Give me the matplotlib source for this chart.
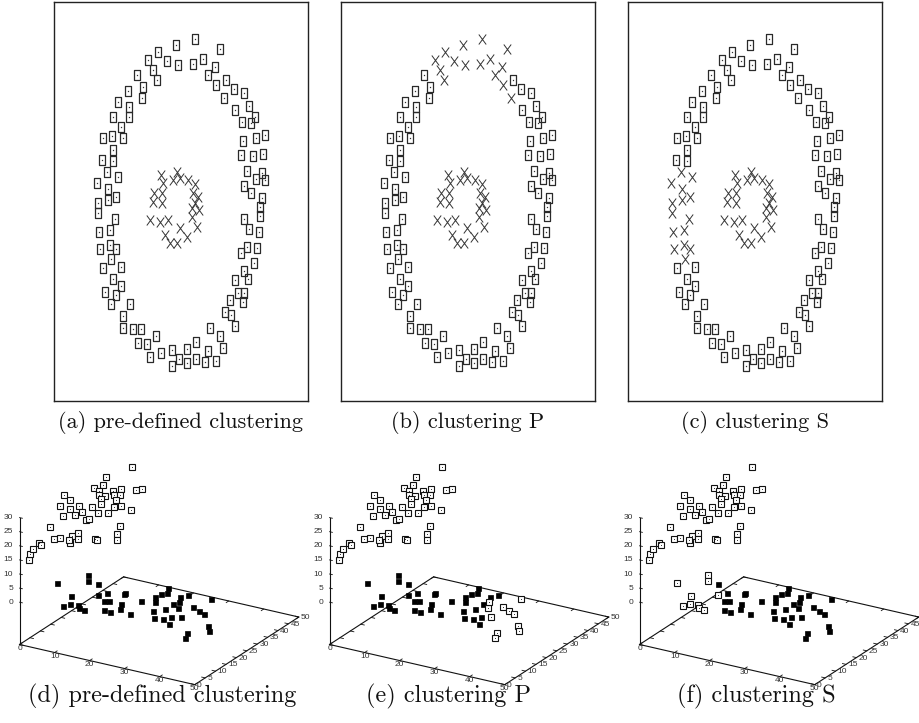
import matplotlib
matplotlib.use("Agg")
import matplotlib.pyplot as plt
from matplotlib.path import Path
from mpl_toolkits.mplot3d import Axes3D  # noqa: F401

if "axes3d.automargin" in plt.rcParams:
    plt.rcParams["axes3d.automargin"] = False

# ---------- 2D data (panels a-c): outer ring and inner core ----------
ring_x = [141, 122, 166, 104.3, 94.3, 113.3, 124.3, 138.7, 148.7, 161,
          99.3, 102.7, 82.7, 153.7, 162, 171.7, 89.3, 87.7, 73.7, 180.3,
          170, 190, 63.7, 75.3, 75.3, 195, 181, 59.3, 188.3, 197,
          200.7, 66.7, 49.3, 58.3, 68.7, 211, 202, 188.7, 59.3, 47.7,
          59.3, 187, 198.7, 209.3, 52.7, 64.3, 193.3, 207.7, 201.7, 211,
          42.7, 54.3, 190, 197, 44.3, 44.3, 54.3, 62, 208.3, 206,
          206, 61, 56, 45.3, 190.3, 195.3, 205.3, 46, 56, 62,
          187, 192.7, 202.7, 200, 56.7, 48.7, 67, 59.3, 190, 181,
          193.7, 51, 66.7, 62, 56.7, 183.7, 190, 188.7, 176, 76,
          171, 176.7, 181, 69.3, 69.3, 78.7, 87, 156, 166, 102,
          84.3, 92.7, 168.7, 142, 132.7, 96, 107, 118.3, 153.7, 125,
          133.3, 142, 151, 161.7, 118.3]
ring_y = [362, 356, 352, 349, 341, 340, 336, 337, 342, 334,
          331, 321, 326, 326, 316, 321, 314, 303, 310, 312,
          303, 308, 299, 294, 284, 295, 291, 284, 279, 278,
          284, 274, 263, 265, 263, 266, 263, 260, 251, 241,
          240, 246, 245, 247, 229, 224, 230, 228, 222, 221,
          218, 212, 215, 208, 198, 188, 201, 204, 203, 194,
          185, 182, 171, 169, 182, 172, 169, 152, 156, 152,
          148, 154, 153, 138, 142, 133, 134, 122, 130, 121,
          122, 109, 115, 106, 97, 108, 108, 99, 101, 97,
          89, 86, 75, 85, 73, 72, 72, 73, 65, 65,
          58, 57, 53, 59, 52, 44, 48, 51, 50, 42,
          38, 42, 39, 40, 35]
core_x = [106.7, 109.3, 122.7, 118.7, 126, 134.3, 141, 100, 107.7, 138.7,
          144.3, 99.3, 107.7, 141, 145.3, 138.3, 96, 106, 114.3, 137.7,
          142.7, 126, 133.3, 111, 116, 122.7]
core_y = [226, 218, 229, 221, 223, 221, 217, 208, 208, 208,
          204, 199, 198, 198, 191, 193, 181, 179, 181, 184,
          174, 173, 164, 166, 158, 158]

# ring points put in the "X" cluster by each clustering
ring_as_x_a = []
ring_as_x_b = [0, 1, 2, 3, 4, 5, 6, 7, 8, 9, 10, 11, 13, 14, 20]
ring_as_x_c = [44, 45, 50, 51, 54, 55, 56, 57, 61, 62, 63, 67, 68, 69, 74]

# ---------- 3D data (panels d-f) ----------
low_x = [1.7, 10.3, 8.7, 11.3, 13.2, 14.3, 16.1, 5.6, 7.6, 10.8,
         14.3, 20.1, 17.4, 15.5, 18.3, 22.1, 23.3, 22.0, 19.5, 19.3,
         27.0, 25.2, 31.1, 26.9, 28.5, 33.5, 27.2, 35.7, 32.9, 26.5,
         28.3, 38.7, 36.9, 32.8, 35.3, 32.0, 33.6, 38.9, 33.2, 45.3,
         46.6, 38.1, 40.8, 42.6, 47.5, 49.2, 39.3]
low_y = [15.2, 3.5, 10.0, 5.4, 5.8, 4.5, 3.8, 23.4, 20.3, 19.7,
         13.7, 6.5, 11.5, 16.0, 12.0, 6.2, 9.0, 11.8, 17.4, 18.3,
         7.6, 15.8, 11.7, 19.9, 17.1, 8.1, 22.1, 8.7, 14.4, 26.5,
         23.3, 6.6, 10.6, 18.4, 16.8, 23.0, 20.2, 11.9, 25.1, 4.3,
         1.2, 19.1, 17.7, 16.7, 10.8, 8.0, 26.0]
low_z = [0, 0, 0, 0, 0, 0, 0, 0, 0, 0, 0, 0, 0, 0, 0, 0, 0, 0, 0, 0,
         0, 0, 0, 0, 0, 0, 0, 0, 0, 0, 0, 0, 0, 0, 0, 0, 0, 0, 0, 0,
         0, 0, 0, 0, 0, 0, 0]
up_x = [8.4, 6.8, 6.6, 6.1, 6.4, 6.4, 6.8, 7.2, 7.7, 8.6,
        9.0, 4.3, 4.6, 4.0, 4.6, 5.2, 6.0, 6.5, 6.5, 7.3,
        7.7, 7.4, 7.3, 7.7, 4.2, 4.9, 5.4, 5.6, 5.8, 6.3,
        6.9, 8.3, 3.4, 3.7, 4.0, 4.6, 4.7, 5.1, 5.1, 4.6,
        6.1, 6.3, 7.7, 7.5, 7.5, 2.2, 2.2, 2.4, 2.7, 2.9]
up_y = [40.1, 30.1, 28.8, 25.4, 27.5, 27.3, 29.7, 32.6, 35.8, 41.4,
        43.6, 14.1, 16.3, 12.6, 16.4, 19.9, 24.9, 28.3, 28.1, 33.3,
        35.3, 34.0, 32.9, 35.8, 13.7, 18.4, 21.0, 22.3, 23.8, 27.0,
        30.7, 39.5, 8.9, 10.4, 12.6, 16.4, 17.1, 19.3, 19.3, 16.0,
        25.8, 26.7, 35.3, 34.1, 34.1, 1.0, 1.4, 2.6, 4.6, 5.3]
up_z = [31.0, 31.9, 29.5, 30.0, 28.0, 26.8, 25.3, 25.9, 25.3, 22.3,
        21.9, 32.3, 29.6, 29.1, 26.6, 25.9, 23.7, 25.0, 23.3, 24.1,
        23.3, 22.1, 19.9, 19.3, 25.2, 23.6, 23.3, 20.2, 19.6, 20.3,
        19.0, 16.1, 23.3, 18.3, 17.8, 14.3, 16.7, 16.7, 14.7, 15.7,
        11.6, 11.0, 12.4, 10.1, 8.0, 15.1, 17.2, 18.4, 19.6, 18.4]

# lower-cluster points drawn as open squares in each clustering
low_open_d = []
low_open_e = [34, 36, 37, 39, 40, 41, 42, 43, 44, 45, 46]
low_open_f = [0, 1, 2, 3, 4, 5, 6, 7, 8, 10]

x_ticks = [0, 10, 20, 30, 40, 50]
y_ticks = [0, 5, 10, 15, 20, 25, 30, 35, 40, 45, 50]
y_ticks_f = [0, 5, 10, 15, 20, 25, 30, 35, 40, 45]   # 50 falls off the page
z_ticks = [0, 5, 10, 15, 20, 25, 30]

captions_top = ["(a) pre-defined clustering", "(b) clustering P", "(c) clustering S"]
captions_bot = ["(d) pre-defined clustering", "(e) clustering P", "(f) clustering S"]

W, H = 920, 723
fig = plt.figure(figsize=(W / 100, H / 100), dpi=100)

rect_marker = Path([(-0.33, -0.5), (0.33, -0.5), (0.33, 0.5), (-0.33, 0.5), (-0.33, -0.5)],
                   [Path.MOVETO, Path.LINETO, Path.LINETO, Path.LINETO, Path.CLOSEPOLY])
x_marker = Path([(-0.37, -0.5), (0.37, 0.5), (-0.37, 0.5), (0.37, -0.5)],
                [Path.MOVETO, Path.LINETO, Path.MOVETO, Path.LINETO])

# ---------- top row ----------
top_lefts = [54, 341, 628]
for left, as_x, cap in zip(top_lefts, [ring_as_x_a, ring_as_x_b, ring_as_x_c], captions_top):
    ax = fig.add_axes([left / W, 322 / H, 254 / W, 399 / H])
    ax.set_xlim(0, 254)
    ax.set_ylim(0, 399)
    ax.set_xticks([])
    ax.set_yticks([])
    for s in ax.spines.values():
        s.set_linewidth(1.0)
        s.set_color("#222222")

    sq = [i for i in range(len(ring_x)) if i not in as_x]
    sx = [ring_x[i] for i in sq]
    sy = [ring_y[i] for i in sq]
    ax.plot(sx, sy, ls="none", marker=rect_marker, ms=6.8, mfc="none",
            mec="#2a2a2a", mew=0.9)
    ax.plot(sx, sy, ls="none", marker="s", ms=0.9, mfc="#333333", mec="none")

    xx = [ring_x[i] for i in as_x] + core_x
    xy = [ring_y[i] for i in as_x] + core_y
    ax.plot(xx, xy, ls="none", marker=x_marker, ms=7.2, mfc="none",
            mec="#333333", mew=0.7)

    fig.text((left + 127) / W, 1 - 422 / H, cap, ha="center", va="center",
             family="cmr10", fontsize=16, color="#111111")

# ---------- bottom row (3D) ----------
S = 310
tick_font = dict(family="Liberation Sans", fontsize=6.0, color="#333333")
base = -15
bot_caption_x = [161.7, 449, 756.7]
for k, (open_idx, cap) in enumerate(zip([low_open_d, low_open_e, low_open_f], captions_bot)):
    off = 310 * k
    cx, cy = 155 + off, 571.5
    ax = fig.add_axes([(cx - S / 2) / W, (H - cy - S / 2) / H, S / W, S / H],
                      projection="3d")
    ax.patch.set_visible(False)
    ax.set_proj_type("ortho")
    ax.view_init(elev=22.7, azim=-59.3)
    ax.set_box_aspect((1, 1, 0.675))
    ax.set_axis_off()
    ax.computed_zorder = False

    # base frame and z axis
    ax.plot([0, 50, 50, 0, 0], [0, 0, 50, 50, 0], [base] * 5,
            color="#111111", lw=0.8, zorder=1, clip_on=False)
    ax.plot([0, 0], [0, 0], [base, 30], color="#111111", lw=0.8, zorder=1, clip_on=False)

    for t in x_ticks:
        ax.plot([t, t], [0, 1.2], [base, base], color="#111111", lw=0.6, zorder=1)
        ax.plot([t, t], [50, 48.8], [base, base], color="#111111", lw=0.6, zorder=1)
        ax.text(t, 0, base - 1.4, str(t), ha="center", va="center", **tick_font)
    for t in y_ticks:
        ax.plot([50, 49], [t, t], [base, base], color="#111111", lw=0.6, zorder=1)
        ax.plot([0, 1], [t, t], [base, base], color="#111111", lw=0.6, zorder=1)
    for t in (y_ticks_f if k == 2 else y_ticks):
        ax.text(50.6, t, base, str(t), ha="left", va="center", **tick_font)
    for t in z_ticks:
        ax.plot([0, 0.8], [0, 0], [t, t], color="#111111", lw=0.6, zorder=1)
        ax.text(-1.3, -0.8, t, str(t), ha="right", va="center", **tick_font)

    filled = [i for i in range(len(low_x)) if i not in open_idx]
    ax.plot([low_x[i] for i in filled], [low_y[i] for i in filled],
            [low_z[i] for i in filled], ls="none", marker="s", ms=3.6,
            mfc="black", mec="black", mew=0.5, zorder=3, clip_on=False)

    ox = up_x + [low_x[i] for i in open_idx]
    oy = up_y + [low_y[i] for i in open_idx]
    oz = up_z + [low_z[i] for i in open_idx]
    ax.plot(ox, oy, oz, ls="none", marker="s", ms=3.8, mfc="white",
            mec="#111111", mew=0.8, zorder=3, clip_on=False)
    ax.plot(ox, oy, oz, ls="none", marker="s", ms=0.7, mfc="#333333",
            mec="none", zorder=4, clip_on=False)

    ax.set_xlim(0, 50)
    ax.set_ylim(0, 50)
    ax.set_zlim(base, 30)

    fig.text(bot_caption_x[k] / W, 1 - 696 / H, cap, ha="center", va="center",
             family="cmr10", fontsize=17.5, color="#111111")

fig.savefig("out.png", dpi=100)
